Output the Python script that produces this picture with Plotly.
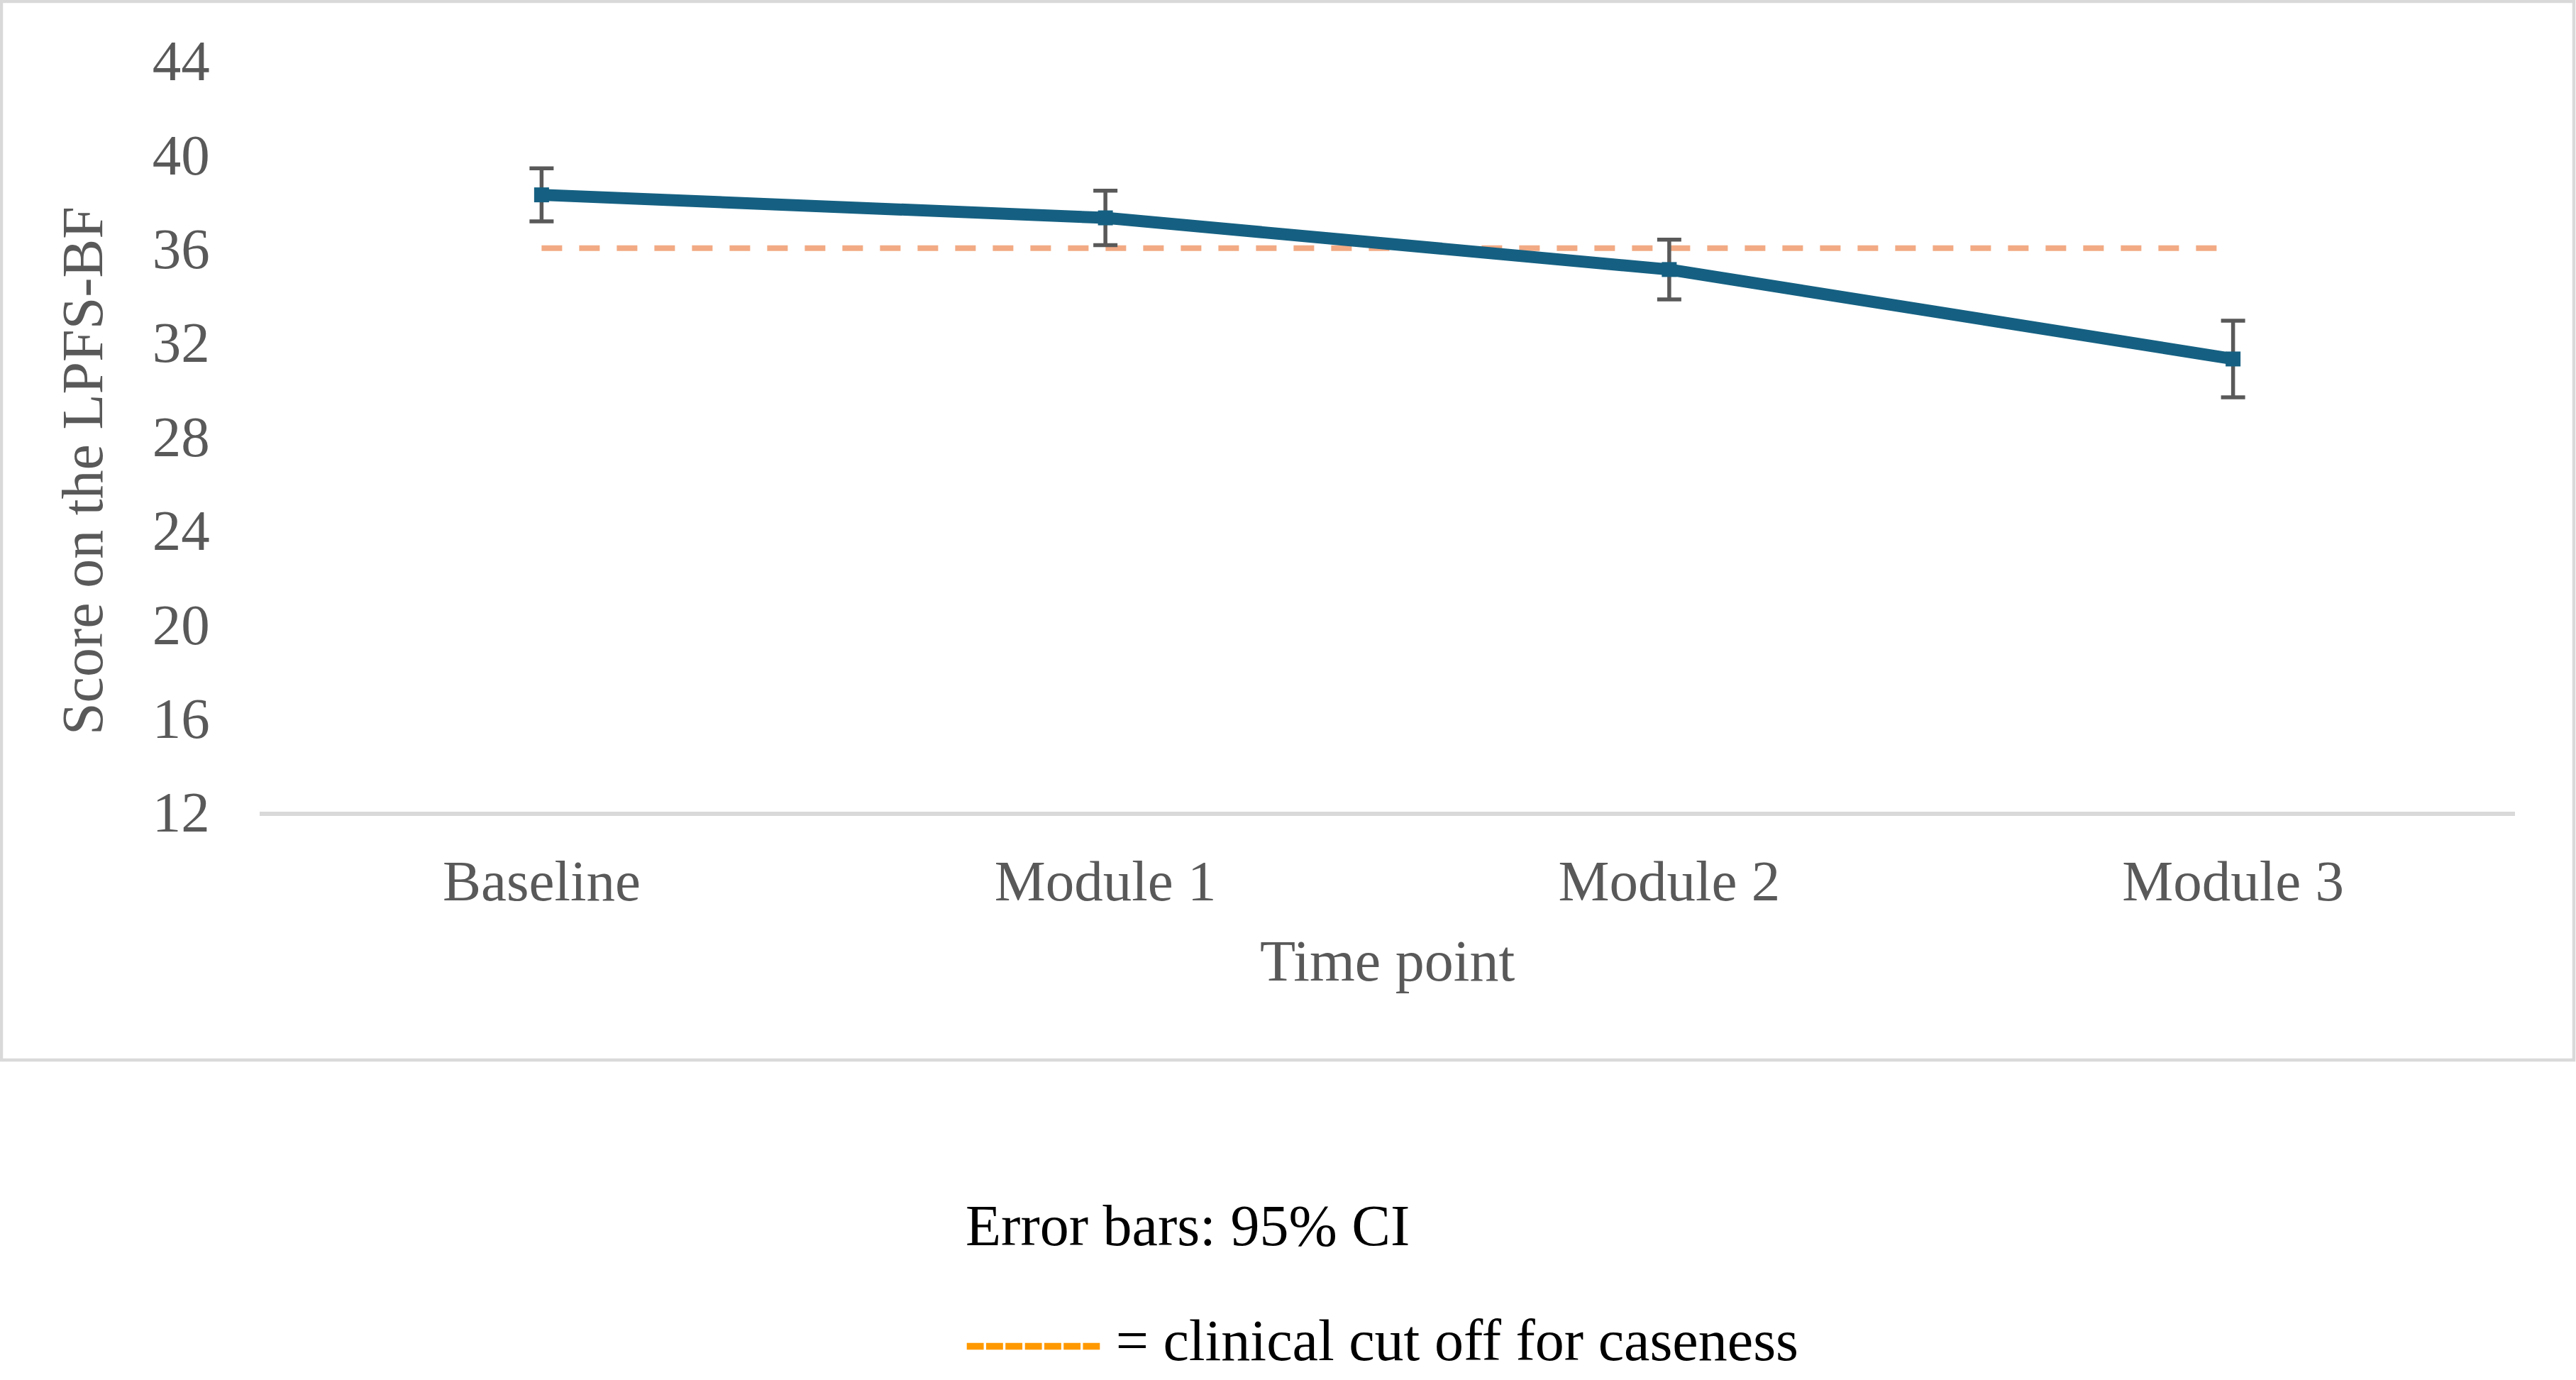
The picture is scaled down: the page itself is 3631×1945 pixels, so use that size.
import plotly.graph_objects as go

# ---- data ----
time_points = ["Baseline", "Module 1", "Module 2", "Module 3"]
mean_scores = [38.27, 37.29, 35.09, 31.28]
ci_half_width = [1.13, 1.16, 1.27, 1.63]
cutoff_value = 36
y_ticks = [12, 16, 20, 24, 28, 32, 36, 40, 44]

# ---- layout geometry (pixels) ----
W, H = 3631, 1945
L, R, T, B = 366, 86, 85, 801
PW, PH = W - L - R, H - T - B


def px_x(px):
    return (px - L) / PW


def px_y(py):
    return (H - B - py) / PH


FONT = "Liberation Serif, Times New Roman, serif"
GREY = "#595959"

fig = go.Figure()

# clinical cut-off line
fig.add_trace(go.Scatter(
    x=time_points, y=[cutoff_value] * len(time_points),
    mode="lines",
    line=dict(color="#F2AA84", width=8, dash="29px,24px"),
    hoverinfo="skip", showlegend=False,
))

# mean score line with 95% CI error bars
fig.add_trace(go.Scatter(
    x=time_points, y=mean_scores,
    mode="lines+markers",
    line=dict(color="#156082", width=17),
    marker=dict(symbol="square", size=21, color="#156082"),
    error_y=dict(type="data", array=ci_half_width, visible=True,
                 color=GREY, thickness=5.5, width=17),
    showlegend=False,
))

fig.update_layout(
    width=W, height=H,
    margin=dict(l=L, r=R, t=T, b=B, pad=0),
    paper_bgcolor="white", plot_bgcolor="white",
    font=dict(family=FONT, size=81, color=GREY),
    showlegend=False,
)

fig.update_xaxes(
    type="category", range=[-0.5, 3.5],
    showgrid=False, zeroline=False,
    showline=True, linecolor="#D9D9D9", linewidth=6,
    ticks="outside", ticklen=22, tickcolor="rgba(0,0,0,0)",
    tickfont=dict(family=FONT, size=81, color=GREY),
)
fig.update_yaxes(
    range=[12, 44], tickvals=y_ticks,
    showgrid=False, zeroline=False, showline=False,
    ticks="outside", ticklen=53, tickcolor="rgba(0,0,0,0)",
    tickfont=dict(family=FONT, size=81, color=GREY),
)

# chart border
fig.add_shape(
    type="rect", xref="paper", yref="paper",
    x0=px_x(2), x1=px_x(3628), y0=px_y(1494), y1=px_y(2),
    line=dict(color="#D9D9D9", width=4.5), fillcolor="rgba(0,0,0,0)",
    layer="below",
)

annotations = [
    dict(text="Score on the LPFS-BF", x=px_x(116), y=px_y(664),
         textangle=-90, xanchor="center", yanchor="middle",
         font=dict(family=FONT, size=82, color=GREY)),
    dict(text="Time point", x=0.5, y=px_y(1354),
         xanchor="center", yanchor="middle",
         font=dict(family=FONT, size=82, color=GREY)),
    dict(text="Error bars: 95% CI", x=px_x(1359), y=px_y(1727),
         xanchor="left", yanchor="middle",
         font=dict(family=FONT, size=82, color="black")),
    dict(text="<b><span style='color:#FF9900;stroke:#FF9900;stroke-width:2.5px'>-------</span></b>"
              " = clinical cut off for caseness",
         x=px_x(1359), y=px_y(1889),
         xanchor="left", yanchor="middle",
         font=dict(family=FONT, size=82, color="black")),
]
for a in annotations:
    a.update(xref="paper", yref="paper", showarrow=False)
    fig.add_annotation(**a)

fig.write_html("out.html")
